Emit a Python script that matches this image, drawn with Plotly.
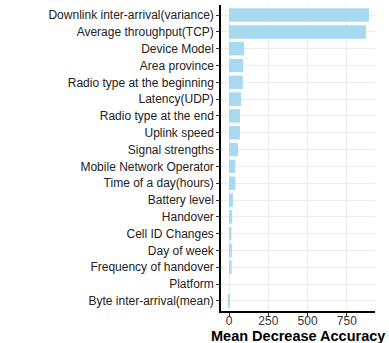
import plotly.graph_objects as go

# Variable importance from the random forest model (top to bottom)
features = [
    "Downlink inter-arrival(variance)",
    "Average throughput(TCP)",
    "Device Model",
    "Area province",
    "Radio type at the beginning",
    "Latency(UDP)",
    "Radio type at the end",
    "Uplink speed",
    "Signal strengths",
    "Mobile Network Operator",
    "Time of a day(hours)",
    "Battery level",
    "Handover",
    "Cell ID Changes",
    "Day of week",
    "Frequency of handover",
    "Platform",
    "Byte inter-arrival(mean)",
]
mean_decrease_accuracy = [891, 872, 96, 90, 88, 77, 70, 70, 58, 40, 40, 25, 20, 15, 18, 17, 0, -8]
x_ticks = [0, 250, 500, 750]
x_title = "Mean Decrease Accuracy"

fig = go.Figure(
    go.Bar(
        x=mean_decrease_accuracy,
        y=features,
        orientation="h",
        width=0.8,
        marker=dict(color="#a7d9f0", line=dict(width=0)),
    )
)

fig.update_layout(
    width=389,
    height=343,
    margin=dict(l=221, r=14, t=5, b=32),
    paper_bgcolor="white",
    plot_bgcolor="white",
    font=dict(family="Liberation Sans, Arial, sans-serif", size=12, color="#222222"),
    showlegend=False,
    bargap=0.2,
)

fig.update_xaxes(
    automargin=False,
    range=[-51, 929],
    tickvals=x_ticks,
    ticks="outside",
    ticklen=3,
    tickcolor="#333333",
    ticklabelstandoff=-5,
    showline=True,
    linecolor="black",
    linewidth=1.5,
    showgrid=True,
    gridcolor="#ececec",
    gridwidth=1,
    zeroline=False,
    tickfont=dict(size=12, color="#333333"),
)

fig.update_yaxes(
    automargin=False,
    categoryorder="array",
    categoryarray=features[::-1],
    range=[-0.6, len(features) - 0.4],
    ticks="outside",
    ticklen=3,
    tickcolor="#333333",
    showline=True,
    linecolor="black",
    linewidth=1.5,
    showgrid=True,
    gridcolor="#ececec",
    gridwidth=1,
    tickfont=dict(size=12, color="#222222"),
)

# x-axis title placed below the tick labels
fig.add_annotation(
    text=f"<b>{x_title}</b>",
    xref="paper",
    yref="paper",
    x=0.5,
    y=0,
    xanchor="center",
    yanchor="middle",
    yshift=-25,
    showarrow=False,
    font=dict(size=14.5, color="black"),
)

fig.write_html("out.html")
